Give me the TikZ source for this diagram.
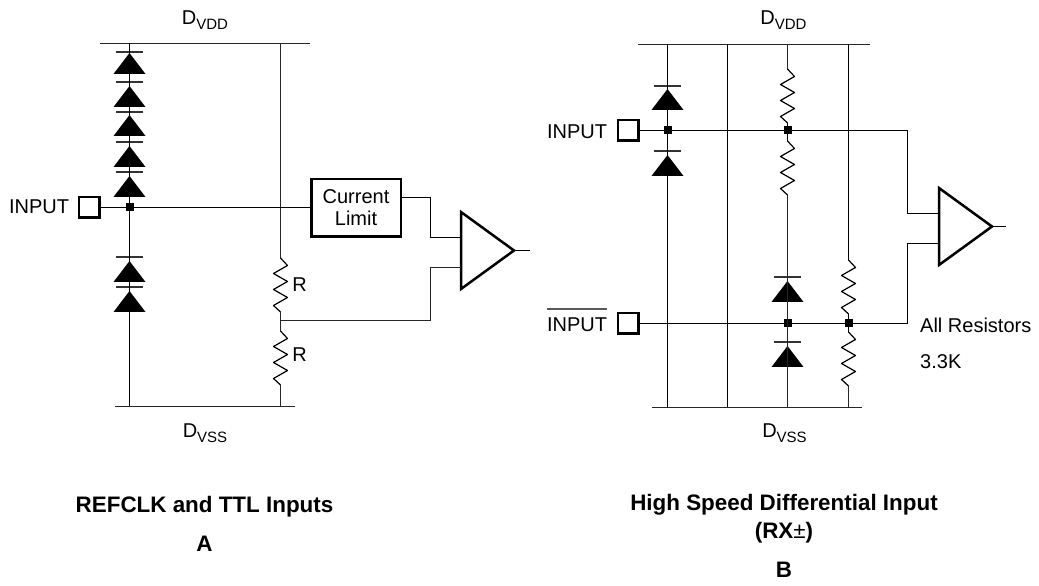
\documentclass[tikz,border=0pt]{standalone}
\usepackage{fontspec}
\setmainfont{Liberation Sans}
\usetikzlibrary{shapes.geometric}
\newcommand{\railname}[1]{D\raisebox{-5bp}{\fontsize{15bp}{15bp}\selectfont #1}}
\tikzset{
  wire/.style={draw=black,line width=1.2bp},
  rail/.style={draw=black!85,line width=1.4bp},
  barline/.style={draw=black!65,line width=1.8bp},
  labeltext/.style={font=\fontsize{20bp}{22bp}\selectfont,inner sep=0pt,align=center},
  captiontext/.style={font=\fontsize{22.4bp}{26bp}\selectfont\bfseries,inner sep=0pt,align=center},
  diode/.style={isosceles triangle,isosceles triangle stretches,shape border rotate=90,
    minimum height=21bp,minimum width=32bp,inner sep=0pt,outer sep=0pt,fill=black,anchor=apex},
  diodebar/.style={rectangle,fill=black!80,minimum width=27bp,minimum height=1.2bp,inner sep=0pt,outer sep=0pt},
  junction/.style={rectangle,fill=black,minimum width=8bp,minimum height=8bp,inner sep=0pt,outer sep=0pt},
  padbox/.style={rectangle,draw=black,line width=2.5bp,minimum width=20.5bp,minimum height=20.5bp,inner sep=0pt,outer sep=1.25bp},
  limitbox/.style={rectangle,draw=black,line width=2.5bp,minimum width=89.5bp,minimum height=57.5bp,inner sep=0pt,outer sep=1.25bp},
  buffer/.style={isosceles triangle,isosceles triangle stretches,shape border rotate=0,draw=black,line width=2.5bp,
    minimum height=53bp,minimum width=77bp,inner sep=0pt,outer sep=0pt,anchor=apex},
  resistor/.style={wire,line join=round,to path={-- ++(7bp,-7.5bp) -- ++(-14bp,-8bp) -- ++(14bp,-8bp) -- ++(-14bp,-8bp)
    -- ++(14bp,-8bp) -- ++(-14bp,-8bp) -- (\tikztotarget)}},
}
\begin{document}
\begin{tikzpicture}[line join=miter]
\useasboundingbox (0bp,0bp) rectangle (1039bp,586bp);
%% circuit A
\node (vdd_a) at (205bp,565.6bp) [labeltext] {\railname{VDD}};
  \node (vss_a) at (205bp,152.5bp) [labeltext] {\railname{VSS}};
  \coordinate (rail_top_a_l) at (100bp,542.5bp);
  \coordinate (rail_top_a_r) at (310bp,542.5bp);
  \coordinate (rail_bot_a_l) at (115bp,179.5bp);
  \coordinate (rail_bot_a_r) at (295bp,179.5bp);
  \coordinate (top_a_1) at (129.5bp,542.5bp);
  \coordinate (bot_a_1) at (129.5bp,179.5bp);
  \coordinate (top_a_2) at (280.5bp,542.5bp);
  \coordinate (bot_a_2) at (280.5bp,179.5bp);
  \coordinate (r1_top) at (280.5bp,328bp);
  \coordinate (r1_bot) at (280.5bp,274bp);
  \coordinate (r2_top) at (280.5bp,255bp);
  \coordinate (r2_bot) at (280.5bp,201bp);
  \coordinate (tap_a) at (280.5bp,265.5bp);
  \coordinate (bend_a_1) at (430.5bp,388.5bp);
  \coordinate (bend_a_2) at (430.5bp,348.5bp);
  \coordinate (bend_a_3) at (430.5bp,265.5bp);
  \coordinate (bend_a_4) at (430.5bp,318.5bp);
  \coordinate (in_a_1) at (461bp,348.5bp);
  \coordinate (in_a_2) at (461bp,318.5bp);
  \coordinate (out_a) at (530bp,335.5bp);
  \node (lbl_input_a) at (39bp,379bp) [labeltext] {INPUT};
  \node (pad_a) at (89bp,378.5bp) [padbox] {};
  \node (dot_a) at (129.5bp,378.5bp) [junction] {};
  \node (limit) at (356bp,378bp) [limitbox,labeltext] {Current\\Limit};
  \node (buf_a) at (514bp,335.5bp) [buffer] {};
  \node (bar_a_1) at (129.5bp,534bp) [diodebar] {};
  \node (bar_a_2) at (129.5bp,504bp) [diodebar] {};
  \node (bar_a_3) at (129.5bp,474bp) [diodebar] {};
  \node (bar_a_4) at (129.5bp,444bp) [diodebar] {};
  \node (bar_a_5) at (129.5bp,414bp) [diodebar] {};
  \node (bar_a_6) at (129.5bp,329bp) [diodebar] {};
  \node (bar_a_7) at (129.5bp,299bp) [diodebar] {};
  \node (d_a_1) at (129.5bp,533bp) [diode] {};
  \node (d_a_2) at (129.5bp,500bp) [diode] {};
  \node (d_a_3) at (129.5bp,471bp) [diode] {};
  \node (d_a_4) at (129.5bp,440bp) [diode] {};
  \node (d_a_5) at (129.5bp,410bp) [diode] {};
  \node (d_a_6) at (129.5bp,325bp) [diode] {};
  \node (d_a_7) at (129.5bp,295bp) [diode] {};
  \node (lbl_r1) at (299.5bp,301bp) [labeltext] {R};
  \node (lbl_r2) at (299.5bp,231bp) [labeltext] {R};
  \node (caption_a) at (204.5bp,79.3bp) [captiontext] {REFCLK and TTL Inputs};
  \node (letter_a) at (204.5bp,42.5bp) [captiontext] {A};
  \draw [rail] (rail_top_a_l) -- (rail_top_a_r);
  \draw [rail] (rail_bot_a_l) -- (rail_bot_a_r);
  \draw [wire] (top_a_1) -- (bot_a_1);
  \draw [rail] (top_a_2) -- (r1_top);
  \draw [resistor] (r1_top) to (r1_bot);
  \draw [rail] (r1_bot) -- (r2_top);
  \draw [resistor] (r2_top) to (r2_bot);
  \draw [rail] (r2_bot) -- (bot_a_2);
  \draw [wire] (pad_a) -- (dot_a);
  \draw [wire] (dot_a) -- (limit.west |- dot_a);
  \draw [wire] (limit.east |- bend_a_1) -- (bend_a_1) -- (bend_a_2) -- (in_a_1);
  \draw [rail] (tap_a) -- (bend_a_3) -- (bend_a_4) -- (in_a_2);
  \draw [wire] (buf_a.apex) -- (out_a);
%% circuit B
\node (vdd_b) at (783.5bp,565.6bp) [labeltext] {\railname{VDD}};
  \node (vss_b) at (784.5bp,152.5bp) [labeltext] {\railname{VSS}};
  \coordinate (rail_top_b_l) at (638bp,541.5bp);
  \coordinate (rail_top_b_r) at (870bp,541.5bp);
  \coordinate (rail_bot_b_l) at (652bp,178.5bp);
  \coordinate (rail_bot_b_r) at (862bp,178.5bp);
  \coordinate (top_b_1) at (667.5bp,541.5bp);
  \coordinate (bot_b_1) at (667.5bp,178.5bp);
  \coordinate (top_b_2) at (727.5bp,541.5bp);
  \coordinate (bot_b_2) at (727.5bp,178.5bp);
  \coordinate (top_b_3) at (787.5bp,541.5bp);
  \coordinate (bot_b_3) at (787.5bp,178.5bp);
  \coordinate (top_b_4) at (848.5bp,541.5bp);
  \coordinate (bot_b_4) at (848.5bp,178.5bp);
  \coordinate (r3_top) at (787.5bp,517bp);
  \coordinate (r3_bot) at (787.5bp,463bp);
  \coordinate (r4_top) at (787.5bp,445bp);
  \coordinate (r4_bot) at (787.5bp,391bp);
  \coordinate (r5_top) at (848.5bp,326bp);
  \coordinate (r5_bot) at (848.5bp,272bp);
  \coordinate (r6_top) at (848.5bp,254bp);
  \coordinate (r6_bot) at (848.5bp,200bp);
  \coordinate (bend_b_1) at (907.5bp,455.5bp);
  \coordinate (bend_b_2) at (907.5bp,372.5bp);
  \coordinate (bend_b_3) at (907.5bp,262.5bp);
  \coordinate (bend_b_4) at (907.5bp,342.5bp);
  \coordinate (in_b_1) at (939bp,372.5bp);
  \coordinate (in_b_2) at (939bp,342.5bp);
  \coordinate (out_b) at (1006bp,359.5bp);
  \coordinate (over_l) at (547bp,277bp);
  \coordinate (over_r) at (607bp,277bp);
  \node (lbl_input_b) at (577bp,454bp) [labeltext] {INPUT};
  \node (lbl_inputbar_b) at (577bp,261bp) [labeltext] {INPUT};
  \node (pad_b_1) at (628bp,455.5bp) [padbox] {};
  \node (pad_b_2) at (628bp,262.5bp) [padbox] {};
  \node (dot_b_1) at (667.5bp,455.5bp) [junction] {};
  \node (dot_b_2) at (787.5bp,455.5bp) [junction] {};
  \node (dot_b_3) at (787.5bp,262.5bp) [junction] {};
  \node (dot_b_4) at (848.5bp,262.5bp) [junction] {};
  \node (buf_b) at (992bp,359.5bp) [buffer] {};
  \node (bar_b_1) at (667.5bp,500bp) [diodebar] {};
  \node (bar_b_2) at (667.5bp,435bp) [diodebar] {};
  \node (bar_b_3) at (787.5bp,309bp) [diodebar] {};
  \node (bar_b_4) at (787.5bp,244bp) [diodebar] {};
  \node (d_b_1) at (667.5bp,497bp) [diode] {};
  \node (d_b_2) at (667.5bp,431bp) [diode] {};
  \node (d_b_3) at (787.5bp,305bp) [diode] {};
  \node (d_b_4) at (787.5bp,240bp) [diode] {};
  \node (lbl_all) at (920bp,261bp) [labeltext,anchor=west] {All Resistors};
  \node (lbl_value) at (920bp,224bp) [labeltext,anchor=west] {3.3K};
  \node (caption_b) at (784bp,81.3bp) [captiontext] {High Speed Differential Input};
  \node (caption_b2) at (784bp,52.8bp) [captiontext] {(RX{\mdseries ±})};
  \node (letter_b) at (784bp,16.5bp) [captiontext] {B};
  \draw [barline] (over_l) -- (over_r);
  \draw [rail] (rail_top_b_l) -- (rail_top_b_r);
  \draw [rail] (rail_bot_b_l) -- (rail_bot_b_r);
  \draw [wire] (top_b_1) -- (bot_b_1);
  \draw [wire] (top_b_2) -- (bot_b_2);
  \draw [rail] (top_b_3) -- (r3_top);
  \draw [resistor] (r3_top) to (r3_bot);
  \draw [wire] (r3_bot) -- (dot_b_2);
  \draw [wire] (dot_b_2) -- (r4_top);
  \draw [resistor] (r4_top) to (r4_bot);
  \draw [rail] (r4_bot) -- (bot_b_3);
  \draw [wire] (top_b_4) -- (r5_top);
  \draw [resistor] (r5_top) to (r5_bot);
  \draw [wire] (r5_bot) -- (dot_b_4);
  \draw [wire] (dot_b_4) -- (r6_top);
  \draw [resistor] (r6_top) to (r6_bot);
  \draw [rail] (r6_bot) -- (bot_b_4);
  \draw [wire] (pad_b_1) -- (dot_b_1);
  \draw [wire] (dot_b_1) -- (dot_b_2);
  \draw [wire] (dot_b_2) -- (bend_b_1) -- (bend_b_2) -- (in_b_1);
  \draw [wire] (pad_b_2) -- (dot_b_3);
  \draw [wire] (dot_b_3) -- (dot_b_4);
  \draw [wire] (dot_b_4) -- (bend_b_3) -- (bend_b_4) -- (in_b_2);
  \draw [wire] (buf_b.apex) -- (out_b);
%
\end{tikzpicture}
\end{document}
